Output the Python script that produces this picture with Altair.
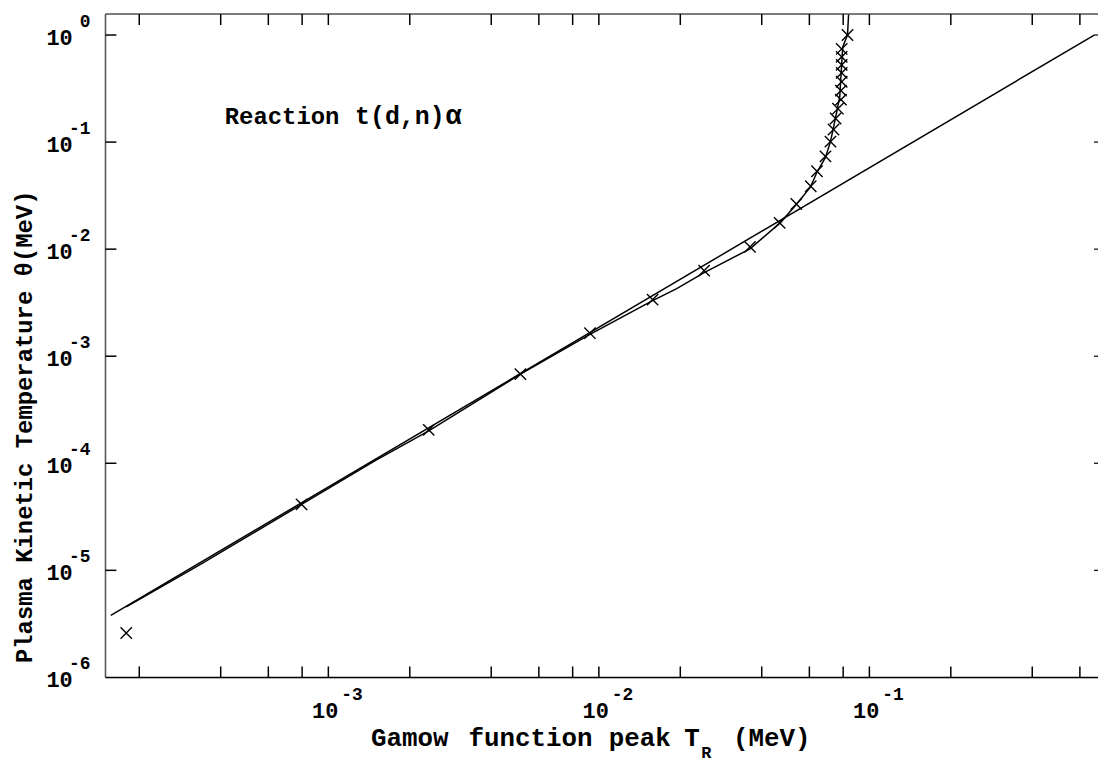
import altair as alt
import pandas as pd

# ---------------- data ----------------
# straight reference line  theta ~ T_R^(3/2)
line_T = [1.57e-4, 0.678]
line_theta = [3.8e-6, 1.0]

# computed curve
curve_T = [1.79e-4, 3.33e-4, 7.96e-4, 1.49e-3, 2.35e-3, 5.13e-3, 9.27e-3, 0.0158,
           0.0194, 0.0245, 0.0362, 0.0468, 0.0535, 0.0605, 0.0640, 0.0688, 0.0718,
           0.0750, 0.0777, 0.0790, 0.0797, 0.0830, 0.0838]
curve_theta = [4.56e-6, 1.12e-5, 4.13e-5, 1.06e-4, 2.01e-4, 6.8e-4, 1.60e-3, 3.31e-3,
               4.28e-3, 6.03e-3, 0.01007, 0.0176, 0.0258, 0.0379, 0.0522, 0.0719, 0.101,
               0.169, 0.266, 0.537, 0.773, 1.0, 1.57]

# marker points (x)
mark_T = [1.79e-4, 7.96e-4, 2.35e-3, 5.13e-3, 9.27e-3, 0.0158, 0.0245, 0.0362,
          0.0466, 0.0537, 0.0607, 0.0640, 0.0688, 0.0718, 0.0737, 0.0750, 0.0765,
          0.0785, 0.0785, 0.0790, 0.0790, 0.0790, 0.0790, 0.0790, 0.0830]
mark_theta = [2.6e-6, 4.13e-5, 2.05e-4, 6.8e-4, 1.64e-3, 3.38e-3, 6.3e-3, 0.0105,
              0.0176, 0.0264, 0.0387, 0.0534, 0.0736, 0.101, 0.131, 0.166, 0.205,
              0.249, 0.302, 0.366, 0.443, 0.526, 0.625, 0.741, 1.0]

x_minor_ticks = [2e-4, 4e-4, 6e-4, 8e-4, 1e-3, 2e-3, 4e-3, 6e-3, 8e-3, 1e-2,
                 2e-2, 4e-2, 6e-2, 8e-2, 1e-1, 2e-1, 4e-1, 6e-1]
x_label_vals = [1e-3, 1e-2, 1e-1]
x_label_exp = ["-3", "-2", "-1"]
y_tick_vals = [1e-5, 1e-4, 1e-3, 1e-2, 1e-1, 1.0]
y_label_vals = [1e-6, 1e-5, 1e-4, 1e-3, 1e-2, 1e-1, 1.0]
y_label_exp = ["-6", "-5", "-4", "-3", "-2", "-1", "0"]

# x-axis title pieces
xtitle_words = ["Gamow", "function", "peak", "T", "R", "(MeV)"]
xtitle_sizes = [26, 26, 26, 26, 17, 26]

X_DOMAIN = [1.5e-4, 0.70]
Y_DOMAIN = [1e-6, 1.57]
W, H = 998, 667
FONT = "Liberation Mono"

xs = alt.Scale(type="log", domain=X_DOMAIN, nice=False)
ys = alt.Scale(type="log", domain=Y_DOMAIN, nice=False)

line_df = pd.DataFrame({"T": line_T, "theta": line_theta})
curve_df = pd.DataFrame({"T": curve_T, "theta": curve_theta, "o": list(range(len(curve_T)))})
mark_df = pd.DataFrame({"T": mark_T, "theta": mark_theta})
xt_df = pd.DataFrame({"T": x_minor_ticks})
xl_df = pd.DataFrame({"T": x_label_vals, "e": x_label_exp})
yt_df = pd.DataFrame({"theta": y_tick_vals})
yl_df = pd.DataFrame({"theta": y_label_vals, "e": y_label_exp})
one = pd.DataFrame({"a": [0]})

X = lambda: alt.X("T:Q", scale=xs, axis=None)
Y = lambda: alt.Y("theta:Q", scale=ys, axis=None)

straight = alt.Chart(line_df).mark_line(color="black", strokeWidth=1.5, clip=True).encode(x=X(), y=Y())
curve = alt.Chart(curve_df).mark_line(color="black", strokeWidth=1.5, clip=True).encode(
    x=X(), y=Y(), order="o:Q")
xpath = "M-1,-1L1,1M-1,1L1,-1"
marks = alt.Chart(mark_df).mark_point(shape=xpath, size=130, filled=False, color="black",
                                      strokeWidth=1.4, opacity=1).encode(x=X(), y=Y())

# frame
frame_top = alt.Chart(one).mark_rule(color="#555555", strokeWidth=1.5).encode(
    x=alt.value(0), x2=alt.value(W), y=alt.value(0))
frame_left = alt.Chart(one).mark_rule(color="#555555", strokeWidth=1.5).encode(
    x=alt.value(0), y=alt.value(0), y2=alt.value(H))
frame_bottom = alt.Chart(one).mark_rule(color="black", strokeWidth=1.5).encode(
    x=alt.value(0), x2=alt.value(W), y=alt.value(H))

# inward ticks
xt_bottom = alt.Chart(xt_df).mark_rule(color="black", strokeWidth=1.5).encode(
    x=X(), y=alt.value(H), y2=alt.value(H - 11))
xt_top = alt.Chart(xt_df).mark_rule(color="black", strokeWidth=1.5).encode(
    x=X(), y=alt.value(0), y2=alt.value(11))
yt_left = alt.Chart(yt_df).mark_rule(color="black", strokeWidth=1.5).encode(
    y=Y(), x=alt.value(0), x2=alt.value(11))
yt_right = alt.Chart(yt_df).mark_rule(color="black", strokeWidth=1.2).encode(
    y=Y(), x=alt.value(W - 4), x2=alt.value(W))

# tick labels
xl_base = alt.Chart(xl_df).mark_text(font=FONT, fontWeight="bold", fontSize=22, align="right",
                                     baseline="alphabetic", dx=10, color="black").encode(
    x=X(), y=alt.value(H + 41), text=alt.value("10"))
xl_exp = alt.Chart(xl_df).mark_text(font=FONT, fontWeight="bold", fontSize=18, align="left",
                                    baseline="alphabetic", dx=13, color="black").encode(
    x=X(), y=alt.value(H + 23), text="e:N")
yl_base = alt.Chart(yl_df).mark_text(font=FONT, fontWeight="bold", fontSize=22, align="right",
                                     baseline="alphabetic", dy=10, color="black").encode(
    y=Y(), x=alt.value(-33), text=alt.value("10"))
yl_exp = alt.Chart(yl_df).mark_text(font=FONT, fontWeight="bold", fontSize=18, align="right",
                                    baseline="alphabetic", dy=-8, color="black").encode(
    y=Y(), x=alt.value(-15), text="e:N")

# titles / annotation
tstyle = dict(font=FONT, fontWeight="bold", color="black", baseline="alphabetic", align="left")
xpos = [267, 365, 506, 582, 599, 631]
ypos = [736, 736, 736, 736, 748, 736]
xtitle_layers = [
    alt.Chart(one).mark_text(fontSize=s, **tstyle).encode(
        x=alt.value(px), y=alt.value(py), text=alt.value(w))
    for w, s, px, py in zip(xtitle_words, xtitle_sizes, xpos, ypos)
]
ytitle = alt.Chart(one).mark_text(fontSize=24, angle=270,
                                  **{**tstyle, "align": "center"}).encode(
    x=alt.value(-74), y=alt.value(415), text=alt.value("Plasma Kinetic Temperature θ(MeV)"))
annot1 = alt.Chart(one).mark_text(fontSize=24, **tstyle).encode(
    x=alt.value(120), y=alt.value(111), text=alt.value("Reaction"))
annot2 = alt.Chart(one).mark_text(fontSize=25, **tstyle).encode(
    x=alt.value(251), y=alt.value(111), text=alt.value("t(d,n)"))
annot3 = alt.Chart(one).mark_text(fontSize=27, **tstyle).encode(
    x=alt.value(342), y=alt.value(111), text=alt.value("α"))

chart = alt.layer(
    straight, curve, marks,
    frame_top, frame_left, frame_bottom,
    xt_bottom, xt_top, yt_left, yt_right,
    xl_base, xl_exp, yl_base, yl_exp,
    *xtitle_layers, ytitle, annot1, annot2, annot3,
).properties(
    width=W, height=H,
    autosize=alt.AutoSizeParams(type="none"),
    padding={"left": 98, "top": 4, "right": 0, "bottom": 85},
).configure_view(stroke=None).configure(background="white")

chart.save("out.html", embed_options={"renderer": "svg", "actions": False})
